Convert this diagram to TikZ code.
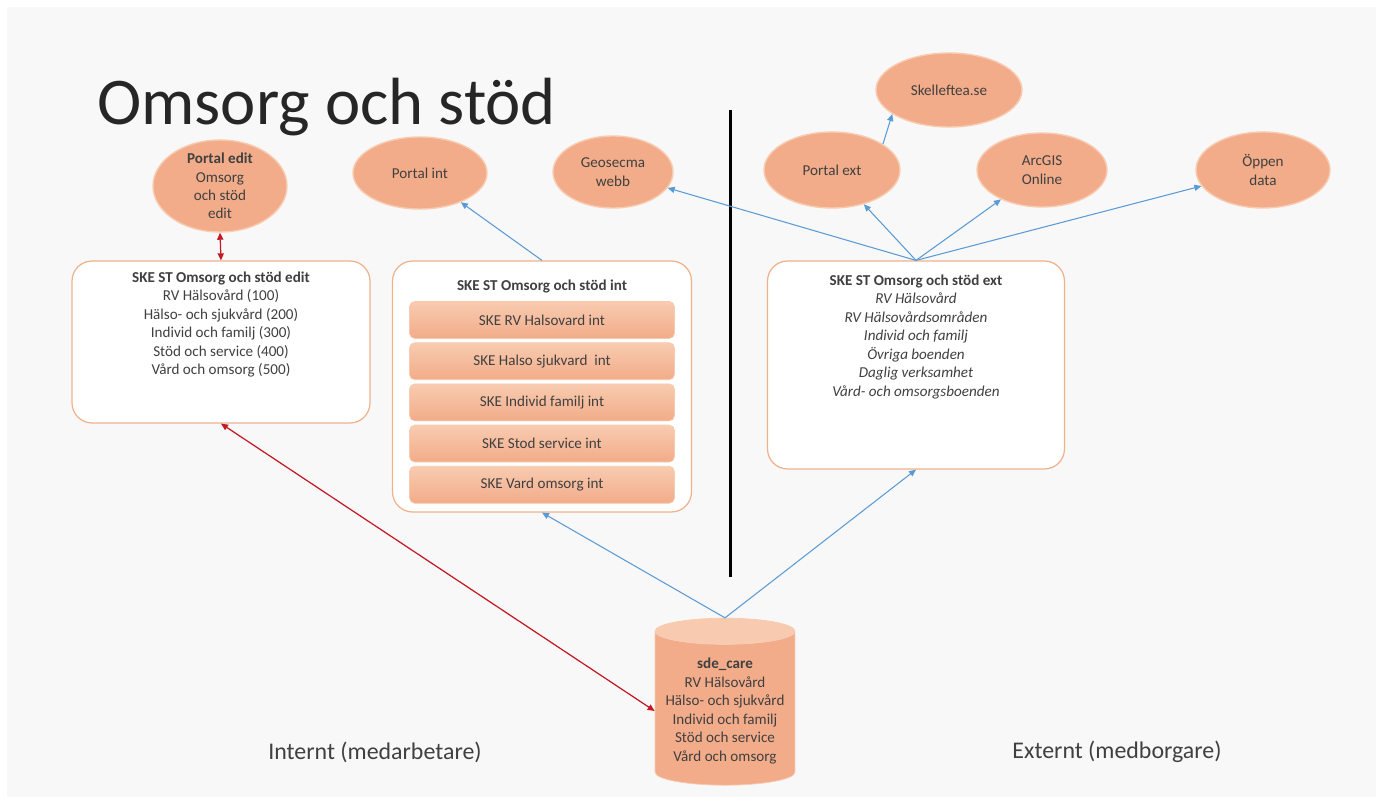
\documentclass[tikz,border=0pt]{standalone}
\usepackage{fontspec}
\setmainfont{Carlito}
\usetikzlibrary{shapes.geometric, arrows.meta, positioning}

\definecolor{slidebg}{RGB}{248,248,248}
\definecolor{salmon}{RGB}{242,172,137}
\definecolor{salmonlight}{RGB}{248,203,176}
\definecolor{boxline}{RGB}{240,178,140}
\definecolor{linkblue}{RGB}{91,155,213}
\definecolor{linkred}{RGB}{196,24,36}
\definecolor{textgrey}{RGB}{64,64,64}
\definecolor{titleink}{RGB}{38,38,38}

\newcommand{\diagfont}{\fontsize{8.6pt}{10.5pt}\selectfont}

\begin{document}
\begin{tikzpicture}[
    x=0.02cm, y=-0.02cm,
    node distance=0.07cm,
    bubble/.style={ellipse, draw=salmonlight, line width=0.8pt, fill=salmon, inner sep=0pt, align=center, font=\diagfont, text=textgrey},
    panel/.style={rectangle, rounded corners=0.4cm, draw=boxline, line width=0.7pt, fill=white},
    paneltext/.style={align=center, font=\diagfont, text=textgrey, inner sep=0pt},
    layer/.style={rectangle, rounded corners=3pt, draw=salmonlight, top color=salmonlight, bottom color=salmon, minimum width=5.3cm, minimum height=0.74cm, font=\diagfont, text=textgrey},
    store/.style={cylinder, shape border rotate=90, aspect=0.2, draw=salmonlight, cylinder uses custom fill, cylinder body fill=salmon, cylinder end fill=salmonlight, minimum width=2.8cm, minimum height=3.34cm, align=center, font=\diagfont, text=textgrey},
    bluearrow/.style={-{Triangle[length=4pt,width=3.5pt]}, linkblue, line width=0.6pt},
    redarrow/.style={{Triangle[length=4pt,width=3.5pt]}-{Triangle[length=4pt,width=3.5pt]}, linkred, line width=0.7pt},
    divider/.style={line width=1.7pt, black}
]

% Slide background
\fill[white] (0,0) rectangle (1376,797);
\fill[slidebg] (7,7) rectangle (1376,797);
\useasboundingbox (0,0) rectangle (1376,797);

% Title
\node (title) [anchor=base west, inner sep=0pt, font=\fontsize{38pt}{46pt}\selectfont, text=titleink] at (97,125) {Omsorg och stöd};

% Divider
\coordinate (divtop) at (730,110);
\coordinate (divbot) at (730,577);
\draw[divider] (divtop) -- (divbot);

% Internal side
\node (portaledit) [bubble, minimum width=2.68cm, minimum height=1.84cm, inner ysep=-4pt] at (220,186) {\textbf{Portal edit}\\Omsorg\\och stöd\\edit};
\node (portalint) [bubble, minimum width=2.68cm, minimum height=1.44cm] at (420,173) {Portal int};

\node (editbox) [panel, minimum width=5.96cm, minimum height=3.24cm] at (221,342) {};
\node (edittext) [paneltext, below=0.22cm of editbox.north] {\textbf{SKE ST Omsorg och stöd edit}\\RV Hälsovård (100)\\Hälso- och sjukvård (200)\\Individ och familj (300)\\Stöd och service (400)\\Vård och omsorg (500)};

\node (intbox) [panel, minimum width=5.98cm, minimum height=5.02cm] at (542,386.5) {};
\node (inttitle) [paneltext, below=0.38cm of intbox.north] {\textbf{SKE ST Omsorg och stöd int}};
\node (layer1) [layer] at (542,320) {SKE RV Halsovard int};
\node (layer2) [layer, below=of layer1] {SKE Halso sjukvard\ \ int};
\node (layer3) [layer, below=of layer2] {SKE Individ familj int};
\node (layer4) [layer, below=of layer3] {SKE Stod service int};
\node (layer5) [layer, below=of layer4] {SKE Vard omsorg int};

% External side
\node (extbox) [panel, minimum width=5.94cm, minimum height=4.16cm] at (916,365) {};
\node (exttext) [paneltext, below=0.28cm of extbox.north] {\textbf{SKE ST Omsorg och stöd ext}\\\textit{RV Hälsovård}\\\textit{RV Hälsovårdsområden}\\\textit{Individ och familj}\\\textit{Övriga boenden}\\\textit{Daglig verksamhet}\\\textit{Vård- och omsorgsboenden}};

\node (geosecma) [bubble, minimum width=2.4cm, minimum height=1.44cm] at (613,172) {Geosecma\\webb};
\node (portalext) [bubble, minimum width=2.72cm, minimum height=1.52cm] at (832,170) {Portal ext};
\node (skel) [bubble, minimum width=2.92cm, minimum height=1.48cm] at (949,90) {Skelleftea.se};
\node (arcgis) [bubble, minimum width=2.6cm, minimum height=1.48cm] at (1042,170) {ArcGIS\\Online};
\node (oppen) [bubble, minimum width=2.68cm, minimum height=1.52cm] at (1263,170) {Öppen\\data};

% Database
\node (sde) [store] at (725,711) {\textbf{sde\_care}\\RV Hälsovård\\Hälso- och sjukvård\\Individ och familj\\Stöd och service\\Vård och omsorg};

% Side labels
\node (internal) [font=\fontsize{13.6pt}{16pt}\selectfont, text=textgrey] at (375,752) {Internt (medarbetare)};
\node (external) [font=\fontsize{13.6pt}{16pt}\selectfont, text=textgrey] at (1117,752) {Externt (medborgare)};

% Connections
\draw [redarrow] (portaledit.south) -- (editbox.north);
\draw [redarrow] (editbox.south) -- (sde.west);
\draw [bluearrow] (intbox.north) -- (portalint);
\draw [bluearrow] (extbox.north) -- (geosecma);
\draw [bluearrow] (extbox.north) -- (portalext);
\draw [bluearrow] (extbox.north) -- (arcgis);
\draw [bluearrow] (extbox.north) -- (oppen);
\draw [bluearrow] (portalext.27) -- (skel.203);
\draw [bluearrow] (sde.north) -- (intbox.south);
\draw [bluearrow] (sde.north) -- (extbox.south);

\end{tikzpicture}
\end{document}
